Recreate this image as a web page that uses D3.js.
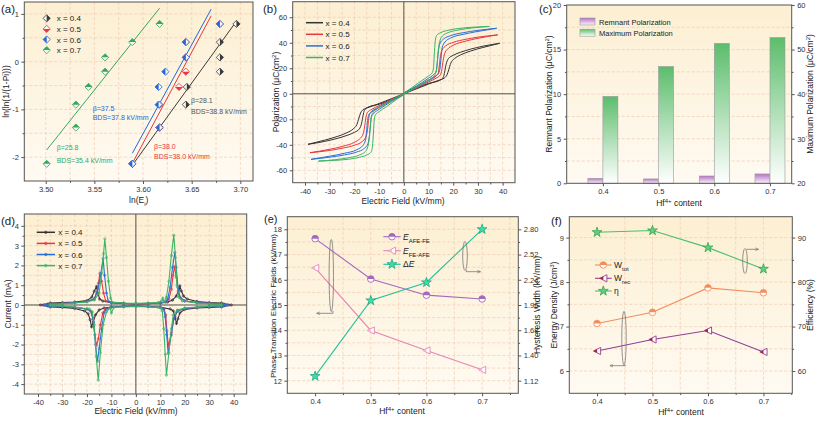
<!DOCTYPE html>
<html><head><meta charset="utf-8">
<script src="https://cdn.jsdelivr.net/npm/d3@7"></script>
<style>body{margin:0;background:#fff}svg{display:block}</style>
</head><body>
<script>
// ================= DATA =================
// (a) Weibull
const aLabels = ["x = 0.4","x = 0.5","x = 0.6","x = 0.7"];
const aLnLn   = [-2.14,-1.38,-0.90,-0.53,-0.21,0.09,0.41,0.79];
const aLnE04  = [3.589,3.617,3.644,3.645,3.679,3.679,3.679,3.696];
const aLnE05  = [3.589,3.617,3.617,3.637,3.644,3.644,3.644,3.679];
const aLnE06  = [3.589,3.617,3.616,3.616,3.623,3.644,3.644,3.679];
const aLnE07  = [3.501,3.531,3.531,3.544,3.561,3.561,3.589,3.617];
const aFit04 = [[3.589,-2.17],[3.695,0.82]];
const aFit05 = [[3.589,-2.13],[3.670,0.96]];
const aFit06 = [[3.589,-1.92],[3.670,1.10]];
const aFit07 = [[3.501,-1.85],[3.617,1.12]];
const aBeta = ["β=28.1","β=38.0","β=37.5","β=25.8"];
const aBDS  = ["BDS=38.8 kV/mm","BDS=38.0 kV/mm","BDS=37.8 kV/mm","BDS=35.4 kV/mm"];
const aXTicks = [3.50,3.55,3.60,3.65,3.70];
const aYTicks = [-2,-1,0,1];

// (b) P-E loops, positive half: ascending field then descending field [E, P]
const bAsc04  = [[0,0],[5,3.8],[10,7.6],[14,10.5],[16.5,12.5],[17.5,15],[18.2,19],[19,24],[20.5,27.5],[23,30.5],[27,33.5],[32,36.3],[38.8,39.6]];
const bDesc04 = [[38.8,39.6],[32,37.3],[27,35],[23,32.6],[20,30.2],[18,27.5],[17.1,23],[16.5,17],[16,13],[14.5,10.5],[10,8.2],[5,4.5],[0,0.6]];
const bAsc05  = [[0,0],[5,4.5],[10,9.3],[13,12.2],[14.8,14.8],[15.4,19],[15.9,26],[16.5,31.5],[17.7,35],[20,38],[25,41.3],[30,43.5],[38,46.2]];
const bDesc05 = [[38,46.2],[30,44.4],[25,42.7],[20,40.3],[17,37.6],[15.4,34],[14.7,28],[14.3,21],[13.9,16],[12.5,13.6],[10,10.8],[5,5.4],[0,0.6]];
const bAsc06  = [[0,0],[5,5],[10,10.3],[13,13.8],[14.2,16.5],[14.7,21],[15.1,29],[15.5,36],[16.6,40.5],[19,43.8],[24,46.6],[30,48.9],[37.6,51.4]];
const bDesc06 = [[37.6,51.4],[30,49.7],[24,47.9],[19,45.6],[16,42.8],[14.5,39],[13.9,32],[13.5,24],[13.1,18],[12,15],[10,12.2],[5,6],[0,0.6]];
const bAsc07  = [[0,0],[4,4],[8,8.5],[11,12],[12.5,14.8],[13.2,18],[13.6,26],[14,35],[14.6,41.5],[15.6,45.3],[18,48],[22,50],[28,51.7],[34.6,52.8]];
const bDesc07 = [[34.6,52.8],[28,52.2],[22,51.2],[18,49.8],[15,48],[13.3,45.8],[12.7,41],[12.3,30],[12,20.5],[11.5,16.5],[10,14],[7,10],[3,4.5],[0,0.6]];
const fieldTicks = [-40,-30,-20,-10,0,10,20,30,40];
const bYTicks = [-60,-40,-20,0,20,40,60];

// (c) polarization bars
const content = [0.4,0.5,0.6,0.7];
const cPr   = [0.56,0.49,0.82,1.05];
const cPmax = [39.5,46.2,51.4,52.7];
const cYTicks  = [0,5,10,15,20];
const cY2Ticks = [20,30,40,50,60];

// (d) I-E loops [E, I]
const dLoop04 = [[0,0.05],[5,0.07],[10,0.1],[13,0.15],[15,0.25],[16.5,0.45],[17.5,0.75],[18,0.96],[18.6,0.7],[19.5,0.45],[21,0.3],[25,0.18],[30,0.12],[35,0.1],[39,0],
  [35,-0.1],[30,-0.12],[25,-0.15],[20,-0.22],[18,-0.4],[17.2,-0.7],[16.6,-0.93],[16,-0.6],[15.3,-0.3],[14,-0.2],[10,-0.12],[5,-0.08],[0,-0.05],
  [-5,-0.07],[-10,-0.1],[-13,-0.15],[-15,-0.25],[-16.5,-0.5],[-17.4,-0.85],[-18.1,-1.1],[-18.7,-0.75],[-19.5,-0.45],[-21,-0.3],[-25,-0.18],[-30,-0.12],[-35,-0.1],[-39,0],
  [-35,0.1],[-30,0.12],[-25,0.15],[-20,0.22],[-18,0.4],[-17,0.7],[-16.1,0.93],[-15.5,0.6],[-14.8,0.3],[-13.5,0.2],[-10,0.12],[-5,0.08],[0,0.05]];
const dLoop05 = [[0,0.05],[5,0.07],[10,0.1],[12.5,0.15],[13.5,0.3],[14.5,0.8],[15.2,1.5],[15.8,1.95],[16.5,1.4],[17.3,0.7],[18.2,0.35],[20,0.2],[25,0.12],[30,0.08],[38,0],
  [30,-0.08],[25,-0.12],[20,-0.18],[17,-0.3],[15.5,-0.7],[14.5,-1.4],[13.3,-2.1],[12.7,-1.3],[12.2,-0.5],[11.5,-0.2],[10,-0.12],[5,-0.08],[0,-0.05],
  [-5,-0.07],[-10,-0.1],[-12.5,-0.2],[-13.5,-0.4],[-14.5,-1.0],[-15.3,-1.7],[-16.1,-2.05],[-16.8,-1.5],[-17.5,-0.7],[-18.5,-0.3],[-20,-0.2],[-25,-0.12],[-30,-0.08],[-38,0],
  [-30,0.08],[-25,0.12],[-20,0.18],[-17,0.3],[-16,0.6],[-15.3,1.1],[-14.7,1.6],[-14,1.2],[-13.2,0.6],[-12.3,0.2],[-10,0.12],[-5,0.08],[0,0.05]];
const dLoop06 = [[0,0.06],[5,0.08],[10,0.1],[12,0.15],[13,0.3],[14,0.9],[15,1.9],[15.9,2.65],[16.5,1.9],[17.2,0.9],[18,0.4],[20,0.2],[25,0.12],[30,0.08],[36,0.05],[37.5,0],
  [36,-0.05],[30,-0.08],[25,-0.12],[20,-0.18],[17,-0.3],[15.5,-0.7],[14.5,-1.5],[13.2,-2.45],[12.6,-1.5],[12,-0.6],[11.4,-0.2],[10,-0.12],[5,-0.08],[0,-0.06],
  [-5,-0.08],[-10,-0.1],[-12,-0.2],[-13,-0.4],[-14,-1.2],[-15,-2.2],[-15.7,-2.85],[-16.5,-2.0],[-17.3,-0.9],[-18.2,-0.35],[-20,-0.2],[-25,-0.12],[-30,-0.08],[-36,-0.05],[-37.5,0],
  [-36,0.05],[-30,0.08],[-25,0.12],[-20,0.18],[-17,0.3],[-15.5,0.8],[-14.3,1.6],[-13.4,2.35],[-12.8,1.5],[-12,0.6],[-11.3,0.2],[-10,0.12],[-5,0.08],[0,0.06]];
const dLoop07 = [[0,0.08],[5,0.1],[9,0.12],[10.5,0.2],[11,0.35],[11.5,0.15],[12.5,0.4],[13.5,1.2],[14.5,2.5],[15.5,3.53],[16.2,2.4],[16.8,1.0],[17.5,0.4],[19,0.2],[25,0.1],[30,0.06],[35,0.02],
  [35,-0.02],[30,-0.06],[25,-0.1],[20,-0.15],[17,-0.25],[15.3,-0.5],[14.5,-1.2],[13.5,-2.4],[12.5,-3.55],[12,-2.5],[11.4,-1.2],[10.8,-0.3],[10.3,-0.15],[9,-0.12],[5,-0.1],[0,-0.08],
  [-5,-0.1],[-9,-0.12],[-10,-0.4],[-10.5,-0.15],[-12,-0.35],[-13.4,-1.0],[-14.5,-2.4],[-15.4,-3.8],[-16.2,-2.6],[-17,-1.0],[-17.8,-0.35],[-19,-0.2],[-25,-0.1],[-30,-0.06],[-35,-0.02],
  [-35,0.02],[-30,0.06],[-25,0.1],[-20,0.15],[-17,0.25],[-15,0.6],[-14,1.6],[-13.2,2.6],[-12.7,3.35],[-12,2.4],[-11.2,1.2],[-10.3,0.35],[-9.8,0.15],[-5,0.1],[0,0.08]];
const dYTicks = [-4,-3,-2,-1,0,1,2,3,4];

// (e) switching fields
const eAFEFE  = [17.63,16.03,15.39,15.24];
const eFEAFE  = [16.47,13.99,13.20,12.43];
const eDeltaE = [1.17,2.01,2.21,2.80];
const eYTicks  = [12,13,14,15,16,17,18];
const eY2Ticks = [1.12,1.40,1.68,1.96,2.24,2.52,2.80];

// (f) energy storage
const fWtot = [7.07,7.32,7.87,7.76];
const fWrec = [6.45,6.71,6.91,6.43];
const fEta  = [91.2,91.6,87.75,82.95];
const fYTicks  = [6,7,8,9];
const fY2Ticks = [60,70,80,90];

// ================= DRAWING =================
const FONT = '"Liberation Sans", Arial, Helvetica, sans-serif';
const svg = d3.select('body').append('svg').attr('width',817).attr('height',421)
  .attr('font-family',FONT);
const defs = svg.append('defs');
function vgrad(id, top, bot){
  const g = defs.append('linearGradient').attr('id',id).attr('x1',0).attr('y1',0).attr('x2',0).attr('y2',1);
  g.append('stop').attr('offset','0%').attr('stop-color',top);
  g.append('stop').attr('offset','100%').attr('stop-color',bot);
}
vgrad('bg','#fcefd2','#fffaf2');
vgrad('gPur','#b774c8','#fbf3fa');
vgrad('gGrn','#5cbd6c','#ffffff');

const AX = '#555';
const GRID = '#efcbb0';

function panel(o){
  const g = svg.append('g');
  const x = d3.scaleLinear().domain(o.xd).range([o.l,o.r]);
  const y = d3.scaleLinear().domain(o.yd).range([o.b,o.t]);
  const y2 = o.y2d ? d3.scaleLinear().domain(o.y2d).range([o.b,o.t]) : null;
  g.append('rect').attr('x',o.l).attr('y',o.t).attr('width',o.r-o.l).attr('height',o.b-o.t).attr('fill','url(#bg)');
  (o.xg||[]).forEach(v=>g.append('line').attr('x1',x(v)).attr('x2',x(v)).attr('y1',o.t).attr('y2',o.b)
    .attr('stroke',GRID).attr('stroke-width',0.7).attr('stroke-dasharray','3,2'));
  (o.yg||[]).forEach(v=>g.append('line').attr('y1',y(v)).attr('y2',y(v)).attr('x1',o.l).attr('x2',o.r)
    .attr('stroke',GRID).attr('stroke-width',0.7).attr('stroke-dasharray','3,2'));
  const ax = (axis,tr)=>{
    const a = g.append('g').attr('transform',tr).call(axis);
    a.select('.domain').remove();
    a.selectAll('line').attr('stroke',AX);
    a.selectAll('text').attr('fill','#333').attr('font-size',7.5).attr('font-family',FONT);
    return a;
  };
  ax(d3.axisBottom(x).tickValues(o.xt).tickFormat(o.xf||(d=>String(d))).tickSize(3).tickPadding(2.5),`translate(0,${o.b})`);
  if(o.xm) ax(d3.axisBottom(x).tickValues(o.xm).tickFormat('').tickSize(1.8),`translate(0,${o.b})`);
  ax(d3.axisLeft(y).tickValues(o.yt).tickFormat(o.yf||(d=>String(d))).tickSize(3).tickPadding(2.5),`translate(${o.l},0)`);
  if(o.ym) ax(d3.axisLeft(y).tickValues(o.ym).tickFormat('').tickSize(1.8),`translate(${o.l},0)`);
  if(y2){
    ax(d3.axisRight(y2).tickValues(o.y2t).tickFormat(o.y2f||(d=>String(d))).tickSize(3).tickPadding(2.5),`translate(${o.r},0)`);
    if(o.y2m) ax(d3.axisRight(y2).tickValues(o.y2m).tickFormat('').tickSize(1.8),`translate(${o.r},0)`);
  }
  const dg = svg.append('g');
  const fg = svg.append('g');
  fg.append('rect').attr('x',o.l).attr('y',o.t).attr('width',o.r-o.l).attr('height',o.b-o.t)
    .attr('fill','none').attr('stroke',AX).attr('stroke-width',1);
  return {g:dg, fg, x, y, y2};
}

function text(g, x, y, parts, opt={}){
  const t = g.append('text').attr('x',x).attr('y',y).attr('font-size',opt.size||8.5)
    .attr('fill',opt.fill||'#222').attr('text-anchor',opt.anchor||'start');
  if(opt.rotate!==undefined){ t.attr('x',0).attr('y',0).attr('transform',`translate(${x},${y}) rotate(${opt.rotate})`); }
  parts.forEach(p=>{
    if(typeof p==='string'){ t.append('tspan').text(p); }
    else {
      const s = t.append('tspan').text(p.t);
      if(p.sub){ s.attr('baseline-shift','sub').attr('font-size',(opt.size||8.5)*0.7); }
      if(p.sup){ s.attr('baseline-shift','super').attr('font-size',(opt.size||8.5)*0.7); }
      if(p.it){ s.attr('font-style','italic'); }
    }
  });
  return t;
}

// ---------- (a) ----------
{
  const xm = [3.525,3.575,3.625,3.675];
  const ym = [-1.5,-0.5,0.5];
  const P = panel({l:24.3,r:253,t:2,b:181, xd:[3.478,3.713], yd:[-2.5,1.25],
    xt:aXTicks, xf:d3.format('.2f'), xm, yt:aYTicks, ym,
    xg:aXTicks.concat(xm), yg:aYTicks.concat(ym)});
  const {g,x,y} = P;
  const cols = ['#3a3a3a','#e8363c','#2268d8','#35a85a'];
  const halves = ['right','bottom','left','top'];
  const s = 3.6;
  const halfPath = {
    right:`M0,${-s}L${s},0L0,${s}Z`, left:`M0,${-s}L${-s},0L0,${s}Z`,
    bottom:`M${-s},0L${s},0L0,${s}Z`, top:`M${-s},0L0,${-s}L${s},0Z`};
  const full = `M0,${-s}L${s},0L0,${s}L${-s},0Z`;
  function marker(gg,cx,cy,i){
    const m = gg.append('g').attr('transform',`translate(${cx},${cy})`);
    m.append('path').attr('d',full).attr('fill','#f6f6f6').attr('stroke',cols[i]).attr('stroke-width',0.8);
    m.append('path').attr('d',halfPath[halves[i]]).attr('fill',cols[i]);
  }
  const fits = [aFit04,aFit05,aFit06,aFit07];
  const xs = [aLnE04,aLnE05,aLnE06,aLnE07];
  const line = d3.line().x(d=>x(d[0])).y(d=>y(d[1]));
  fits.forEach((f,i)=>g.append('path').attr('d',line(f)).attr('fill','none').attr('stroke',cols[i]).attr('stroke-width',1));
  xs.forEach((arr,i)=>arr.forEach((v,j)=>marker(g,x(v),y(aLnLn[j]),i)));
  aLabels.forEach((lab,i)=>{
    const yy = 18.3 + i*10.6;
    marker(g,46.7,yy,i);
    text(g,56.7,yy+3,[lab],{size:8});
  });
  const ann = [[191,100,111.7],[154,146.7,156.7],[92.7,108.3,117.3],[56.7,147.7,160]];
  ann.forEach((a,i)=>{
    const c = i===0 ? '#555' : cols[i];
    text(g,a[0],a[1]+2.5,[aBeta[i]],{size:7,fill:c});
    text(g,a[0],a[2]+2.5,[aBDS[i]],{size:7,fill:c});
  });
  text(svg,8.6,91.5,['ln(ln(1/(1-Pi)))'],{rotate:-90,anchor:'middle',size:8.5});
  text(svg,138.7,203,['ln(E',{t:'i',sub:true},')'],{anchor:'middle',size:8.5});
  text(svg,1,13,['(a)'],{size:11.5});
}

// ---------- (b) ----------
{
  const xm = [-35,-25,-15,-5,5,15,25,35];
  const ym = [-50,-30,-10,10,30,50];
  const P = panel({l:292.7,r:515,t:1.7,b:182.7, xd:[-45,45], yd:[-69.7,72.2],
    xt:fieldTicks, xm, yt:bYTicks, ym, xg:fieldTicks.concat(xm), yg:bYTicks.concat(ym)});
  const {g,x,y} = P;
  g.append('line').attr('x1',x(0)).attr('x2',x(0)).attr('y1',1.7).attr('y2',182.7).attr('stroke',AX).attr('stroke-width',1);
  g.append('line').attr('y1',y(0)).attr('y2',y(0)).attr('x1',292.7).attr('x2',515).attr('stroke',AX).attr('stroke-width',1);
  const cols = ['#333333','#e8363c','#2a6fd6','#3bb463'];
  const loops = [[bAsc04,bDesc04],[bAsc05,bDesc05],[bAsc06,bDesc06],[bAsc07,bDesc07]];
  const neg = a=>a.map(([e,p])=>[-e,-p]);
  const line = d3.line().x(d=>x(d[0])).y(d=>y(d[1])).curve(d3.curveMonotoneX);
  loops.forEach(([asc,desc],i)=>{
    [asc, desc, neg(asc), neg(desc)].forEach(seg=>{
      const sorted = seg.slice().sort((a,b)=>a[0]-b[0]);
      g.append('path').attr('d',line(sorted)).attr('fill','none').attr('stroke',cols[i]).attr('stroke-width',1);
    });
  });
  aLabels.forEach((lab,i)=>{
    const yy = 22.7 + i*11.6;
    g.append('line').attr('x1',306).attr('x2',323).attr('y1',yy).attr('y2',yy).attr('stroke',cols[i]).attr('stroke-width',1.5);
    text(g,325.5,yy+3,[lab],{size:8});
  });
  text(svg,279,92,['Polarization (μC/cm',{t:'2',sup:true},')'],{rotate:-90,anchor:'middle',size:8.5});
  text(svg,403,204,['Electric Field (kV/mm)'],{anchor:'middle',size:8.5});
  text(svg,263,13,['(b)'],{size:11.5});
}

// ---------- (c) ----------
{
  const ym = [2.5,7.5,12.5,17.5];
  const y2m = [25,35,45,55];
  const P = panel({l:566.7,r:791.7,t:5,b:183.3, xd:[0.335,0.739], yd:[0,20], y2d:[20,60],
    xt:content, xf:d3.format('.1f'), yt:cYTicks, ym, y2t:cY2Ticks, y2m,
    yg:[2.5,5,7.5,10,12.5,15,17.5]});
  const {g,x,y,y2} = P;
  const bw = 15;
  content.forEach((c,i)=>{
    g.append('rect').attr('x',x(c)-bw).attr('width',bw).attr('y',y(cPr[i])).attr('height',y(0)-y(cPr[i]))
      .attr('fill','url(#gPur)').attr('stroke','#9a9a9a').attr('stroke-width',0.6);
    g.append('rect').attr('x',x(c)).attr('width',bw).attr('y',y2(cPmax[i])).attr('height',y2(20)-y2(cPmax[i]))
      .attr('fill','url(#gGrn)').attr('stroke','#9a9a9a').attr('stroke-width',0.6);
  });
  const leg = [['Remnant Polarization','url(#gPur)'],['Maximum Polarization','url(#gGrn)']];
  leg.forEach((l,i)=>{
    const yy = 18 + i*11.2;
    g.append('rect').attr('x',580).attr('y',yy).attr('width',15).attr('height',7).attr('fill',l[1]).attr('stroke','#9a9a9a').attr('stroke-width',0.6);
    text(g,599,yy+6.5,[l[0]],{size:7.5});
  });
  text(svg,551.8,94,['Remnant Polarization (μC/cm',{t:'2',sup:true},')'],{rotate:-90,anchor:'middle',size:8.5});
  text(svg,813,94,['Maximum Polarization (μC/cm',{t:'2',sup:true},')'],{rotate:-90,anchor:'middle',size:8.5});
  text(svg,679,206,['Hf',{t:'4+',sup:true},' content'],{anchor:'middle',size:8.5});
  text(svg,539,13,['(c)'],{size:11.5});
}

// ---------- (d) ----------
{
  const xm = [-35,-25,-15,-5,5,15,25,35];
  const ym = [-3.5,-2.5,-1.5,-0.5,0.5,1.5,2.5,3.5];
  const P = panel({l:24.3,r:246.7,t:214,b:394, xd:[-45.6,45.3], yd:[-4.5,4.6],
    xt:fieldTicks, xm, yt:dYTicks, ym, xg:fieldTicks.concat(xm), yg:dYTicks.concat(ym)});
  const {g,x,y} = P;
  g.append('line').attr('x1',x(0)).attr('x2',x(0)).attr('y1',214).attr('y2',394).attr('stroke',AX).attr('stroke-width',1);
  g.append('line').attr('y1',y(0)).attr('y2',y(0)).attr('x1',24.3).attr('x2',246.7).attr('stroke',AX).attr('stroke-width',1);
  const cols = ['#333333','#e8363c','#2a6fd6','#3bb463'];
  const loops = [dLoop04,dLoop05,dLoop06,dLoop07];
  const line = d3.line().x(d=>x(d[0])).y(d=>y(d[1]));
  loops.forEach((L,i)=>{
    g.append('path').attr('d',line(L)).attr('fill','none').attr('stroke',cols[i]).attr('stroke-width',1.1);
    g.selectAll(null).data(L).enter().append('circle').attr('cx',d=>x(d[0])).attr('cy',d=>y(d[1])).attr('r',1.1)
      .attr('fill','none').attr('stroke',cols[i]).attr('stroke-width',0.7);
  });
  aLabels.forEach((lab,i)=>{
    const yy = 232.3 + i*11.1;
    g.append('line').attr('x1',36.7).attr('x2',55).attr('y1',yy).attr('y2',yy).attr('stroke',cols[i]).attr('stroke-width',1.5);
    g.append('circle').attr('cx',45.8).attr('cy',yy).attr('r',1.2).attr('fill','none').attr('stroke',cols[i]).attr('stroke-width',0.8);
    text(g,58.3,yy+3,[lab],{size:8});
  });
  text(svg,11.2,304,['Current (mA)'],{rotate:-90,anchor:'middle',size:8.5});
  text(svg,136,414,['Electric Field (kV/mm)'],{anchor:'middle',size:8.5});
  text(svg,1,225,['(d)'],{size:11.5});
}

// arrow marker
defs.append('marker').attr('id','arr').attr('viewBox','0 0 6 6').attr('refX',5).attr('refY',3)
  .attr('markerWidth',5).attr('markerHeight',5).attr('orient','auto')
  .append('path').attr('d','M0,0.8L5,3L0,5.2').attr('fill','none').attr('stroke','#666').attr('stroke-width',0.8);

function halfCircle(g,cx,cy,col,fill){
  const rr=3.3;
  g.append('circle').attr('cx',cx).attr('cy',cy).attr('r',rr).attr('fill','#fff').attr('stroke',col).attr('stroke-width',0.9);
  g.append('path').attr('d',`M${cx-rr},${cy}A${rr},${rr} 0 0 1 ${cx+rr},${cy}Z`).attr('fill',fill);
}
function leftTri(g,cx,cy,col,fill){
  const s=3.6;
  g.append('path').attr('d',`M${cx-s},${cy}L${cx+s},${cy-s}L${cx+s},${cy+s}Z`).attr('fill','#fff').attr('stroke',col).attr('stroke-width',0.9);
  g.append('path').attr('d',`M${cx-s},${cy}L${cx},${cy-s/2}L${cx},${cy+s/2}Z`).attr('fill',fill);
}
function star(g,cx,cy,col,fill){
  g.append('path').attr('d',d3.symbol(d3.symbolStar,30)()).attr('transform',`translate(${cx},${cy})`)
    .attr('fill',fill).attr('stroke',col).attr('stroke-width',0.7);
}

// ---------- (e) ----------
{
  const xg = [0.45,0.5,0.55,0.6,0.65,0.7,0.75];
  const ym = [12.5,13.5,14.5,15.5,16.5,17.5];
  const P = panel({l:287.3,r:518.3,t:216.7,b:393.3, xd:[0.35,0.765], yd:[11.5,18.5], y2d:[0.98,2.94],
    xt:content, xf:d3.format('.1f'), xm:[0.45,0.55,0.65,0.75], yt:eYTicks, ym, y2t:eY2Ticks, y2f:d3.format('.2f'),
    y2m:[1.26,1.54,1.82,2.10,2.38,2.66], xg, yg:eYTicks.concat(ym)});
  const {g,x,y,y2} = P;
  const cP='#a469bf', cK='#e784b2', cT='#21c29a';
  const l1 = d3.line().x((d,i)=>x(content[i])).y(d=>y(d));
  const l2 = d3.line().x((d,i)=>x(content[i])).y(d=>y2(d));
  g.append('path').attr('d',l1(eAFEFE)).attr('fill','none').attr('stroke',cP).attr('stroke-width',1.1);
  g.append('path').attr('d',l1(eFEAFE)).attr('fill','none').attr('stroke',cK).attr('stroke-width',1.1);
  g.append('path').attr('d',l2(eDeltaE)).attr('fill','none').attr('stroke',cT).attr('stroke-width',1.1);
  content.forEach((c,i)=>{
    halfCircle(g,x(c),y(eAFEFE[i]),cP,'#a469bf');
    leftTri(g,x(c),y(eFEAFE[i]),cK,'#f2b8d2');
    star(g,x(c),y2(eDeltaE[i]),'#16a07c','#3fdca8');
  });
  const ly=[236.7,250.7,264.3];
  [cP,cK,cT].forEach((c,i)=>{
    g.append('line').attr('x1',383.3).attr('x2',400.7).attr('y1',ly[i]).attr('y2',ly[i]).attr('stroke',c).attr('stroke-width',1.1);
  });
  halfCircle(g,392,ly[0],cP,cP);
  leftTri(g,392,ly[1],cK,'#f2b8d2');
  star(g,392,ly[2],'#16a07c','#3fdca8');
  text(g,403,ly[0]+3,[{t:'E',it:true},{t:'AFE-FE',sub:true}],{size:8.5});
  text(g,403,ly[1]+3,[{t:'E',it:true},{t:'FE-AFE',sub:true}],{size:8.5});
  text(g,403,ly[2]+3,['Δ',{t:'E',it:true}],{size:8.5});
  g.append('ellipse').attr('cx',331.3).attr('cy',275.5).attr('rx',2.2).attr('ry',36).attr('fill','none').attr('stroke','#777').attr('stroke-width',0.8);
  g.append('path').attr('d','M333,311L333,313.3L316.7,313.3').attr('fill','none').attr('stroke','#777').attr('stroke-width',0.8).attr('marker-end','url(#arr)');
  g.append('ellipse').attr('cx',465).attr('cy',256).attr('rx',2.3).attr('ry',14.5).attr('fill','none').attr('stroke','#777').attr('stroke-width',0.8);
  g.append('path').attr('d','M466.3,270L466.3,271.7L480.5,271.7').attr('fill','none').attr('stroke','#777').attr('stroke-width',0.8).attr('marker-end','url(#arr)');
  text(svg,275.8,306,['Phase  Transition Electric Fields (kV/mm)'],{rotate:-90,anchor:'middle',size:8});
  text(svg,540,305,['Hysteresis Width (kV/mm)'],{rotate:-90,anchor:'middle',size:8.5});
  text(svg,402,414,['Hf',{t:'4+',sup:true},' content'],{anchor:'middle',size:8.5});
  text(svg,264,223,['(e)'],{size:11});
}

// ---------- (f) ----------
{
  const xg = [0.45,0.5,0.55,0.6,0.65,0.7];
  const P = panel({l:569.3,r:792.3,t:216.7,b:393.3, xd:[0.35,0.752], yd:[5.5,9.47], y2d:[55,94.7],
    xt:content, xf:d3.format('.1f'), xm:[0.45,0.55,0.65,0.75], yt:fYTicks, ym:[6.5,7.5,8.5], y2t:fY2Ticks,
    y2m:[65,75,85], xg, yg:[6,6.5,7,7.5,8,8.5,9]});
  const {g,x,y,y2} = P;
  const cO='#f28e5c', cV='#8f3f93', cG='#4cc06a';
  const l1 = d3.line().x((d,i)=>x(content[i])).y(d=>y(d));
  const l2 = d3.line().x((d,i)=>x(content[i])).y(d=>y2(d));
  g.append('path').attr('d',l1(fWtot)).attr('fill','none').attr('stroke',cO).attr('stroke-width',1.1);
  g.append('path').attr('d',l1(fWrec)).attr('fill','none').attr('stroke',cV).attr('stroke-width',1.1);
  g.append('path').attr('d',l2(fEta)).attr('fill','none').attr('stroke',cG).attr('stroke-width',1.1);
  content.forEach((c,i)=>{
    halfCircle(g,x(c),y(fWtot[i]),cO,cO);
    leftTri(g,x(c),y(fWrec[i]),cV,'#b01e2e');
    star(g,x(c),y2(fEta[i]),'#2f9a4c','#5fd07c');
  });
  const ly=[265,278.3,291];
  [cO,cV,cG].forEach((c,i)=>{
    g.append('line').attr('x1',595).attr('x2',611.7).attr('y1',ly[i]).attr('y2',ly[i]).attr('stroke',c).attr('stroke-width',1.1);
  });
  halfCircle(g,603.3,ly[0],cO,cO);
  leftTri(g,603.3,ly[1],cV,'#b01e2e');
  star(g,603.3,ly[2],'#2f9a4c','#5fd07c');
  text(g,614,ly[0]+3,['W',{t:'tot',sub:true}],{size:8.5});
  text(g,614,ly[1]+3,['W',{t:'rec',sub:true}],{size:8.5});
  text(g,614,ly[2]+3,['η'],{size:8.5});
  g.append('ellipse').attr('cx',624).attr('cy',338.3).attr('rx',2.2).attr('ry',27).attr('fill','none').attr('stroke','#777').attr('stroke-width',0.8);
  g.append('path').attr('d','M625.5,365L625.5,365.7L610,365.7').attr('fill','none').attr('stroke','#777').attr('stroke-width',0.8).attr('marker-end','url(#arr)');
  g.append('ellipse').attr('cx',745).attr('cy',261).attr('rx',2.3).attr('ry',12.5).attr('fill','none').attr('stroke','#777').attr('stroke-width',0.8);
  g.append('path').attr('d','M746.5,249.3L758.5,249.3').attr('fill','none').attr('stroke','#777').attr('stroke-width',0.8).attr('marker-end','url(#arr)');
  text(svg,556.5,305,['Energy Density (J/cm',{t:'3',sup:true},')'],{rotate:-90,anchor:'middle',size:8.5});
  text(svg,813,305,['Efficiency (%)'],{rotate:-90,anchor:'middle',size:8.5});
  text(svg,681,415,['Hf',{t:'4+',sup:true},' content'],{anchor:'middle',size:8.5});
  text(svg,551,225,['(f)'],{size:11.5});
}
</script>
</body></html>
